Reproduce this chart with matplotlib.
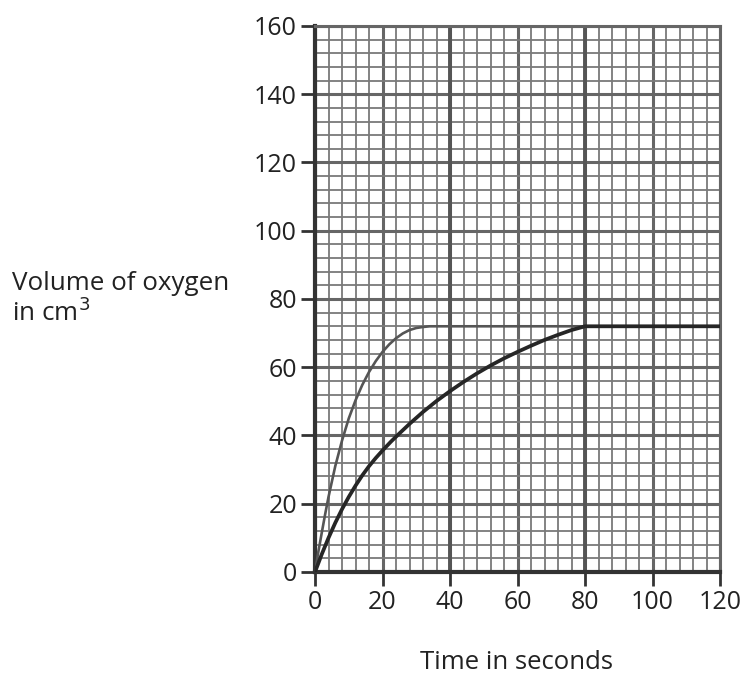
"""
Volume of oxygen against time, two reaction curves on graph paper.
"""
import matplotlib
matplotlib.use('Agg')
import matplotlib.pyplot as plt
from matplotlib.ticker import MultipleLocator

plt.rcParams['font.family'] = ['Open Sans', 'DejaVu Sans']

# fast reaction (thin, grey curve)
fast_t = [0, 1, 2, 3, 4, 6, 8, 10, 12, 14, 16, 18, 20, 22, 24, 26, 28, 30,
          32, 34, 36, 40, 60, 80, 100, 120]
fast_v = [0, 6, 11.5, 16.9, 22, 31, 38.5, 45, 50.3, 54.8, 58.6, 61.8, 64.5,
          66.7, 68.5, 69.9, 70.9, 71.5, 71.8, 72, 72, 72, 72, 72, 72, 72]

# slow reaction (thick, dark curve)
slow_t = [0, 2, 4, 6, 8, 10, 12, 14, 16, 18, 20, 22.5, 25, 28, 32, 36, 40,
          44, 48, 52, 56, 60, 64, 68, 72, 76, 80, 100, 120]
slow_v = [0, 5.2, 10, 14.4, 18.4, 22, 25.3, 28.3, 31, 33.4, 35.6, 38.2, 40.6,
          43.4, 46.9, 50.1, 53, 55.7, 58.2, 60.5, 62.6, 64.5, 66.3, 68, 69.5,
          70.9, 72, 72, 72]

xticks = [0, 20, 40, 60, 80, 100, 120]
yticks = [0, 20, 40, 60, 80, 100, 120, 140, 160]

fig = plt.figure(figsize=(7.47, 6.75), dpi=100)
ax = fig.add_axes([0.4217, 0.1526, 0.5422, 0.8089])

grid_col = '#7a7a7a'
ax.xaxis.set_minor_locator(MultipleLocator(4))
ax.yaxis.set_minor_locator(MultipleLocator(4))
ax.grid(which='minor', color=grid_col, lw=1.3)
ax.grid(which='major', color='#666666', lw=2.2)
# every 40 s the vertical lines are heavier
for t in [40, 80]:
    ax.axvline(t, color='#555555', lw=2.8, zorder=1)

ax.plot(fast_t, fast_v, color='#555555', lw=1.9, zorder=3,
        solid_joinstyle='round')
ax.plot(slow_t, slow_v, color='#262626', lw=2.7, zorder=3,
        solid_joinstyle='round')

ax.set_xlim(0, 120)
ax.set_ylim(0, 160)
ax.set_xticks(xticks)
ax.set_yticks(yticks)
ax.tick_params(which='major', direction='out', length=10, width=2,
               color='#333333', labelsize=18, labelcolor='#222222', pad=3)
ax.tick_params(which='minor', length=0)

for side in ['left', 'bottom']:
    ax.spines[side].set_linewidth(3)
    ax.spines[side].set_color('#333333')
for side in ['top', 'right']:
    ax.spines[side].set_linewidth(2.2)
    ax.spines[side].set_color('#666666')
ax.set_axisbelow(True)

fig.text(0.016, 0.557, 'Volume of oxygen\nin cm$^3$', fontsize=18.7,
         color='#222222', ha='left', va='center', linespacing=1.1)
fig.text(0.692, 0.019, 'Time in seconds', fontsize=18.5, color='#222222',
         ha='center', va='center')

fig.savefig('out.png', dpi=100)
